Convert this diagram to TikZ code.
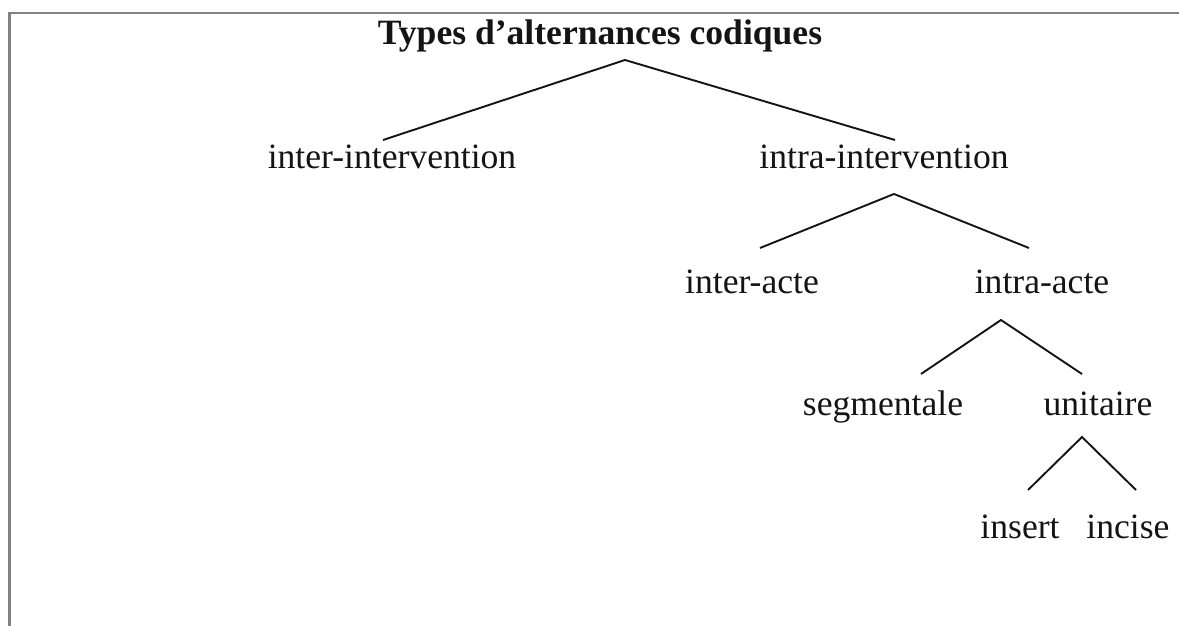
\documentclass[tikz,border=0pt]{standalone}
\usepackage{fontspec}
\setmainfont{Liberation Serif}
\definecolor{framegray}{RGB}{130,130,130}
\definecolor{ink}{RGB}{20,20,20}
\begin{document}
\begin{tikzpicture}[x=1pt,y=-1pt,
  lbl/.style={anchor=base,inner sep=0pt,font=\fontsize{35.6}{40}\selectfont,text=ink},
  ttl/.style={lbl,font=\fontsize{35.6}{40}\selectfont\bfseries},
  branch/.style={draw=ink,line width=1.9pt},
  frame/.style={draw=framegray,line width=2.4pt}]
\useasboundingbox (0,0) rectangle (1179,626);
\coordinate (fTR) at (1179,13);
\coordinate (fTL) at (9.5,13);
\coordinate (fBL) at (9.5,626);
\draw[frame] (fTR) -- (fTL) -- (fBL);

\node[ttl] (root) at (600,45) {Types d’alternances codiques};
\node[lbl] (interint) at (392,168) {inter-intervention};
\node[lbl] (intraint) at (884,168) {intra-intervention};
\node[lbl] (interacte) at (752,293) {inter-acte};
\node[lbl] (intraacte) at (1042,293) {intra-acte};
\node[lbl] (segm) at (883,415) {segmentale};
\node[lbl] (unit) at (1098,415) {unitaire};
\node[lbl] (insert) at (1020,538) {insert};
\node[lbl] (incise) at (1128,538) {incise};

\coordinate (a1) at (625,60);
\coordinate (a1l) at (383,140);
\coordinate (a1r) at (895,140);
\coordinate (a2) at (894,194);
\coordinate (a2l) at (760,248);
\coordinate (a2r) at (1029,248);
\coordinate (a3) at (1001,320);
\coordinate (a3l) at (921,374);
\coordinate (a3r) at (1082,374);
\coordinate (a4) at (1082,437);
\coordinate (a4l) at (1028,490);
\coordinate (a4r) at (1136,490);

\draw[branch] (a1l) -- (a1) -- (a1r);
\draw[branch] (a2l) -- (a2) -- (a2r);
\draw[branch] (a3l) -- (a3) -- (a3r);
\draw[branch] (a4l) -- (a4) -- (a4r);
\end{tikzpicture}
\end{document}
